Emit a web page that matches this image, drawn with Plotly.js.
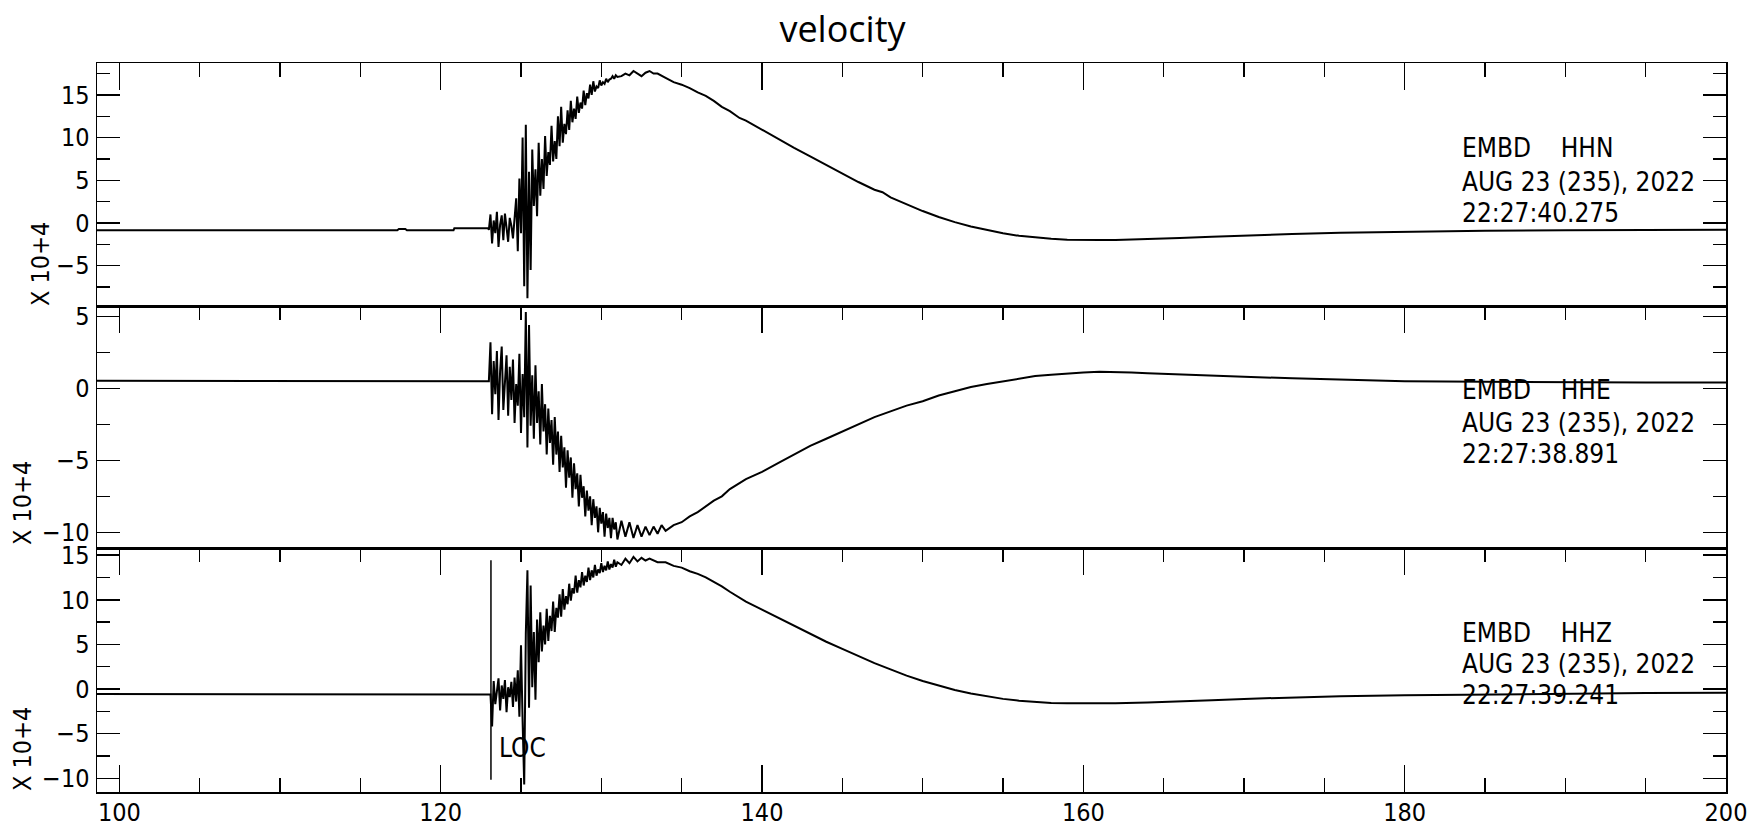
<!DOCTYPE html>
<html>
<head>
<meta charset="utf-8">
<script src="https://cdn.plot.ly/plotly-3.0.1.min.js"></script>
<style>html,body{margin:0;padding:0;background:#fff;}#chart{width:1755px;height:827px;}</style>
</head>
<body>
<div id="chart"></div>
<script>
// ---------------- data ----------------
const chartTitle = "velocity";
const xTickVals = [100, 120, 140, 160, 180, 200];
const stationLabels = [
  ["EMBD\u00a0\u00a0\u00a0\u00a0HHN", "AUG 23 (235), 2022", "22:27:40.275"],
  ["EMBD\u00a0\u00a0\u00a0\u00a0HHE", "AUG 23 (235), 2022", "22:27:38.891"],
  ["EMBD\u00a0\u00a0\u00a0\u00a0HHZ", "AUG 23 (235), 2022", "22:27:39.241"]
];
const yUnitLabel = "X 10+4";
const pickTimes = [123.13];
const pickNames = ["LOC"];

// shared sample times of the burst window
const burstTimes = [123.0,123.1,123.2,123.3,123.4,123.5,123.6,123.7,123.8,123.9,
  124.0,124.1,124.2,124.3,124.4,124.5,124.6,124.7,124.8,124.9,
  125.0,125.1,125.2,125.3,125.4,125.5,125.6,125.7,125.8,125.9,
  126.0,126.1,126.2,126.3,126.4,126.5,126.6,126.7,126.8,126.9,
  127.0,127.1,127.2,127.3,127.4,127.5,127.6,127.7,127.8,127.9,
  128.0,128.1,128.2,128.3,128.4,128.5,128.6,128.7,128.8,128.9,
  129.0,129.1,129.2,129.3,129.4,129.5,129.6,129.7,129.8,129.9,
  130.0,130.1,130.2,130.3,130.4,130.5,130.6,130.7,130.8,130.9,131.0];

// HHN
const hhnPreTimes = [98.6, 117.3, 117.4, 117.8, 117.9, 120.8, 120.85, 122.95];
const hhnPreVals  = [-0.85, -0.85, -0.7, -0.7, -0.85, -0.85, -0.62, -0.62];
const hhnBurstVals = [-0.8,1.0,-2.4,0.3,-1.2,1.3,-2.8,-0.2,0.9,-2.0,
  1.1,-0.9,-2.2,0.6,-0.3,-1.8,0.4,2.9,-3.3,5.2,
  -1.2,10.0,-7.4,11.5,-8.8,6.0,-5.5,8.6,2.0,6.3,
  0.8,9.4,3.2,7.5,4.0,10.2,5.5,8.3,6.8,11.4,
  7.2,9.6,7.5,12.5,9.0,13.6,9.4,11.6,10.4,13.2,
  10.9,14.3,11.8,13.4,12.2,14.8,12.9,14.1,13.4,15.5,
  13.8,15.2,14.6,16.2,15.0,16.6,15.4,16.0,15.8,16.7,
  16.1,16.5,16.3,16.9,16.5,16.8,16.9,17.2,16.9,17.3,17.1];
const hhnTailTimes = [131.25,131.5,131.75,132.0,132.25,132.5,132.75,133.0,133.25,133.5,134.0,134.5,135.0,135.5,136.0,136.5,137.0,137.5,138.0,138.6,139.0,140.0,141.0,142.0,143.0,144.0,145.0,146.0,147.0,147.5,148.0,149.0,150.0,151.0,152.0,153.0,154.0,155.0,156.0,157.0,158.0,159.0,160.0,161.0,162.0,163.0,164.0,166.0,168.0,170.0,173.0,176.0,180.0,185.0,190.0,195.0,200.0];
const hhnTailVals  = [17.2,17.5,17.3,17.8,17.5,17.2,17.6,17.8,17.5,17.5,17.0,16.5,16.2,15.8,15.3,14.9,14.3,13.6,13.1,12.3,12.0,10.9,9.9,8.8,7.8,6.8,5.8,4.8,3.9,3.6,3.0,2.2,1.4,0.7,0.1,-0.4,-0.8,-1.2,-1.5,-1.7,-1.85,-1.95,-2.0,-2.0,-2.0,-1.95,-1.9,-1.75,-1.6,-1.45,-1.3,-1.15,-1.0,-0.9,-0.85,-0.8,-0.8];

// HHE
const hhePreTimes = [98.6, 122.95];
const hhePreVals  = [0.53, 0.53];
const hheBurstVals = [0.5,3.2,-1.8,1.9,-0.4,2.6,-2.2,1.2,2.9,-1.5,
  0.6,2.3,-1.9,1.5,-0.8,2.0,-2.4,0.3,-1.2,2.4,
  -3.1,1.0,-2.0,5.3,-4.1,4.4,-2.6,0.9,-3.5,1.6,
  -2.4,-0.2,-3.9,0.3,-3.0,-1.1,-4.6,-1.4,-3.8,-2.2,
  -5.3,-2.0,-4.6,-3.0,-5.8,-3.3,-5.5,-4.1,-6.9,-4.3,
  -6.2,-4.8,-7.6,-5.2,-7.0,-5.9,-8.2,-6.0,-7.6,-6.8,
  -8.9,-7.1,-8.5,-7.5,-9.5,-7.7,-9.0,-8.2,-10.0,-8.3,
  -9.4,-8.6,-10.3,-8.7,-9.7,-9.0,-10.4,-9.0,-9.8,-9.3,-10.5];
const hheTailTimes = [131.25,131.5,131.75,132.0,132.25,132.5,132.75,133.0,133.25,133.5,133.75,134.0,134.5,135.0,135.5,136.0,136.5,137.0,137.5,138.0,139.0,140.0,141.0,142.0,143.0,144.0,145.0,146.0,147.0,148.0,149.0,150.0,151.0,152.0,153.0,154.0,155.0,156.0,157.0,158.0,159.0,160.0,161.0,162.0,163.0,164.0,166.0,168.0,170.0,173.0,176.0,180.0,185.0,190.0,195.0,200.0];
const hheTailVals  = [-9.2,-10.3,-9.3,-10.4,-9.5,-10.3,-9.6,-10.2,-9.6,-10.1,-9.5,-9.9,-9.5,-9.3,-8.9,-8.6,-8.2,-7.8,-7.5,-7.0,-6.3,-5.8,-5.2,-4.6,-4.0,-3.5,-3.0,-2.5,-2.0,-1.6,-1.2,-0.9,-0.5,-0.2,0.1,0.3,0.5,0.7,0.85,0.95,1.05,1.1,1.15,1.15,1.1,1.05,0.95,0.85,0.8,0.7,0.6,0.5,0.45,0.4,0.4,0.4];

// HHZ
const hhzPreTimes = [98.6, 122.95];
const hhzPreVals  = [-0.56, -0.56];
const hhzBurstVals = [-0.56,-0.6,-4.2,0.9,-1.7,-0.2,1.2,-2.4,0.4,-1.1,
  1.0,-2.6,0.2,-0.9,0.8,-2.0,1.3,-1.4,2.1,-3.1,
  4.9,-3.6,-10.7,6.2,13.3,-2.1,11.6,0.2,6.4,-1.2,
  7.8,3.0,8.6,4.2,7.1,5.0,9.0,5.4,8.2,6.5,
  9.8,6.4,9.1,8.0,10.6,8.1,11.2,8.9,10.4,9.5,
  11.8,9.9,11.3,10.7,12.7,10.8,12.2,11.4,13.1,11.6,
  12.7,12.0,13.6,12.2,13.3,12.5,13.9,12.7,13.4,13.0,
  14.1,13.1,13.8,13.3,14.3,13.4,14.0,13.6,14.5,13.7,14.2];
const hhzTailTimes = [131.25,131.5,131.75,132.0,132.25,132.5,132.75,133.0,133.5,134.0,134.5,135.0,135.5,136.0,136.5,137.0,137.5,138.0,138.6,139.0,140.0,141.0,142.0,143.0,144.0,145.0,146.0,147.0,148.0,149.0,150.0,151.0,152.0,153.0,154.0,155.0,156.0,157.0,158.0,159.0,160.0,162.0,164.0,166.0,168.0,170.0,173.0,176.0,180.0,185.0,190.0,195.0,200.0];
const hhzTailVals  = [13.9,14.6,14.1,14.8,14.3,14.7,14.4,14.6,14.2,14.2,13.8,13.6,13.2,12.9,12.5,12.0,11.5,10.9,10.2,9.8,8.9,8.0,7.1,6.2,5.3,4.5,3.7,2.9,2.2,1.5,0.9,0.4,-0.1,-0.5,-0.8,-1.1,-1.3,-1.45,-1.55,-1.6,-1.6,-1.6,-1.5,-1.4,-1.25,-1.1,-0.95,-0.8,-0.7,-0.6,-0.5,-0.45,-0.4];

// ---------------- build ----------------
const seriesList = [
  {pt: hhnPreTimes, pv: hhnPreVals, bv: hhnBurstVals, tt: hhnTailTimes, tv: hhnTailVals},
  {pt: hhePreTimes, pv: hhePreVals, bv: hheBurstVals, tt: hheTailTimes, tv: hheTailVals},
  {pt: hhzPreTimes, pv: hhzPreVals, bv: hhzBurstVals, tt: hhzTailTimes, tv: hhzTailVals}
];
const axisIds = [["x","y"],["x2","y2"],["x3","y3"]];
const traces = seriesList.map((s, i) => ({
  type: "scatter", mode: "lines",
  x: s.pt.concat(burstTimes, s.tt),
  y: s.pv.concat(s.bv, s.tv),
  xaxis: axisIds[i][0], yaxis: axisIds[i][1],
  line: {color: "#000", width: 2},
  hoverinfo: "skip", showlegend: false
}));

const W = 1755, H = 827;
const mL = 97, mR = 29, mT = 63, mB = 35;
const plotW = W - mL - mR, plotH = H - mT - mB;
const pxX = px => (px - mL) / plotW;
const pxY = py => (H - mB - py) / plotH;

const narrow = "Liberation Sans Narrow, DejaVu Sans Condensed, Arial Narrow, sans-serif";
const tickFont = {family: narrow, size: 25, color: "#000"};

const xBase = {
  range: [98.61, 200], tickvals: xTickVals, ticks: "inside", ticklen: 27, tickwidth: 1.5,
  tickcolor: "#000", minor: {dtick: 5, tick0: 100, ticks: "inside", ticklen: 14, tickwidth: 1.5, tickcolor: "#000"},
  showline: true, linecolor: "#000", linewidth: 1.5, showgrid: false, zeroline: false,
  tickfont: tickFont, fixedrange: true
};
const yBase = {
  dtick: 5, tick0: 0, ticks: "inside", ticklen: 23, tickwidth: 1.5, tickcolor: "#000",
  minor: {dtick: 2.5, tick0: 0, ticks: "inside", ticklen: 13, tickwidth: 1.5, tickcolor: "#000"},
  showline: true, linecolor: "#000", linewidth: 1.5, mirror: "ticks", showgrid: false, zeroline: false,
  tickfont: tickFont, ticklabelstandoff: 1, fixedrange: true
};
const domains = [[pxY(306), 1], [pxY(548), pxY(306)], [0, pxY(548)]];
const yRanges = [[-9.72, 18.74], [-11.09, 5.72], [-11.53, 15.8]];

const annotations = [];
const labelRows = [[148, 182, 213], [390, 423, 454], [633, 664, 695]];
stationLabels.forEach((lines, i) => {
  lines.forEach((txt, j) => {
    annotations.push({
      text: txt, xref: "paper", yref: "paper", x: pxX(1460), y: pxY(labelRows[i][j]),
      xanchor: "left", yanchor: "middle", showarrow: false,
      font: {family: narrow, size: 26, color: "#000"}
    });
  });
});
const unitPos = [[40, 264], [22, 503], [22, 749]];
unitPos.forEach(p => annotations.push({
  text: yUnitLabel, xref: "paper", yref: "paper", x: pxX(p[0]), y: pxY(p[1]),
  xanchor: "center", yanchor: "middle", textangle: -90, showarrow: false,
  font: {family: narrow, size: 25, color: "#000"}
}));
pickTimes.forEach((t, k) => annotations.push({
  text: pickNames[k], xref: "x3", yref: "y3 domain", x: t, y: 0.18,
  xanchor: "left", yanchor: "middle", xshift: 6, showarrow: false,
  font: {family: narrow, size: 26, color: "#000"}
}));
const shapes = pickTimes.map(t => ({
  type: "line", xref: "x3", yref: "y3 domain", x0: t, x1: t, y0: 0.05, y1: 0.95,
  line: {color: "#000", width: 1.5}
}));

const layout = {
  width: W, height: H,
  margin: {l: mL, r: mR, t: mT, b: mB, pad: 0},
  paper_bgcolor: "#fff", plot_bgcolor: "#fff",
  showlegend: false,
  title: {text: chartTitle, x: 842.5 / W, xref: "container", xanchor: "center",
          y: 1 - 29 / H, yref: "container", yanchor: "middle",
          font: {family: "Open Sans, Noto Sans, sans-serif", size: 36, color: "#000"}},
  xaxis: Object.assign({}, xBase, {anchor: "y", side: "top", showticklabels: false, mirror: true}),
  xaxis2: Object.assign({}, xBase, {anchor: "y2", side: "top", showticklabels: false, mirror: true, matches: "x"}),
  xaxis3: Object.assign({}, xBase, {anchor: "y3", side: "bottom", mirror: "ticks", matches: "x", ticklabelstandoff: -3}),
  yaxis: Object.assign({}, yBase, {domain: domains[0], range: yRanges[0], anchor: "x"}),
  yaxis2: Object.assign({}, yBase, {domain: domains[1], range: yRanges[1], anchor: "x2"}),
  yaxis3: Object.assign({}, yBase, {domain: domains[2], range: yRanges[2], anchor: "x3"}),
  annotations: annotations,
  shapes: shapes
};

Plotly.newPlot("chart", traces, layout, {staticPlot: true, displayModeBar: false});
</script>
</body>
</html>
